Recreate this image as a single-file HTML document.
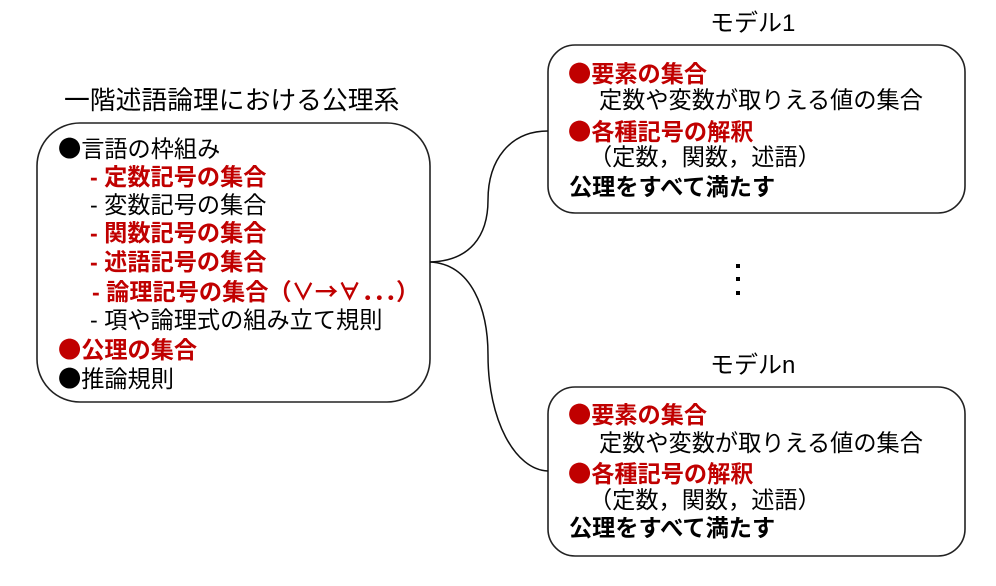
<!DOCTYPE html>
<html><head><meta charset="utf-8"><style>
html,body{margin:0;padding:0;background:#fff;}
body{width:996px;height:586px;position:relative;overflow:hidden;font-family:"Liberation Sans","Noto Sans CJK JP",sans-serif;color:#000;}
.t{position:absolute;white-space:nowrap;font-size:23.2px;line-height:28px;height:28px;}
.r{color:#c00000;font-weight:bold;}
.b{font-weight:bold;}
.j{font-family:"Noto Sans CJK JP",sans-serif;}
svg{position:absolute;left:0;top:0;}
</style></head><body>
<svg width="996" height="586" viewBox="0 0 996 586">
<rect x="37" y="123" width="393" height="279" rx="43" ry="43" fill="none" stroke="#222" stroke-width="1.6"/>
<rect x="548" y="45" width="417" height="168" rx="27" ry="27" fill="none" stroke="#222" stroke-width="1.6"/>
<rect x="548" y="387" width="417" height="169" rx="27" ry="27" fill="none" stroke="#222" stroke-width="1.6"/>
<path d="M430,262 C470,261 488,236 488,200 C488,160 510,131 548,131" fill="none" stroke="#111" stroke-width="1.5"/>
<path d="M430,262 C472,264 488,310 488,355 C488,420 515,470 548,471" fill="none" stroke="#111" stroke-width="1.5"/>
<rect x="736" y="264" width="4" height="4" fill="#000"/>
<rect x="736" y="277" width="4" height="4" fill="#000"/>
<rect x="736" y="291" width="4" height="4" fill="#000"/>
</svg>

<div class="t" style="left:64px;top:86px;font-size:25.8px;line-height:30px;height:30px;">一階述語論理における公理系</div>

<div class="t" style="left:58px;top:133px;"><span class="j">●</span>言語の枠組み</div>
<div class="t r" style="left:90px;top:163px;">- 定数記号の集合</div>
<div class="t" style="left:90px;top:191px;">- 変数記号の集合</div>
<div class="t r" style="left:90px;top:219px;">- 関数記号の集合</div>
<div class="t r" style="left:90px;top:248px;">- 述語記号の集合</div>
<div class="t r" style="left:92px;top:276px;">- 論理記号の集合<span class="j">（∨→∀．．．）</span></div>
<div class="t" style="left:90px;top:306px;">- 項や論理式の組み立て規則</div>
<div class="t r" style="left:58px;top:334px;"><span class="j">●</span>公理の集合</div>
<div class="t" style="left:58px;top:363px;"><span class="j">●</span>推論規則</div>

<div class="t" style="left:710px;top:10px;font-size:24px;">モデル1</div>
<div class="t r" style="left:568px;top:58px;"><span class="j">●</span>要素の集合</div>
<div class="t" style="left:599px;top:86px;">定数や変数が取りえる値の集合</div>
<div class="t r" style="left:568px;top:116px;"><span class="j">●</span>各種記号の解釈</div>
<div class="t" style="left:589px;top:143px;">（定数，関数，述語）</div>
<div class="t b" style="left:569px;top:173px;">公理をすべて満たす</div>

<div class="t" style="left:710px;top:352px;font-size:24px;">モデルn</div>
<div class="t r" style="left:568px;top:399px;"><span class="j">●</span>要素の集合</div>
<div class="t" style="left:599px;top:429px;">定数や変数が取りえる値の集合</div>
<div class="t r" style="left:568px;top:458px;"><span class="j">●</span>各種記号の解釈</div>
<div class="t" style="left:589px;top:486px;">（定数，関数，述語）</div>
<div class="t b" style="left:569px;top:514px;">公理をすべて満たす</div>
</body></html>
